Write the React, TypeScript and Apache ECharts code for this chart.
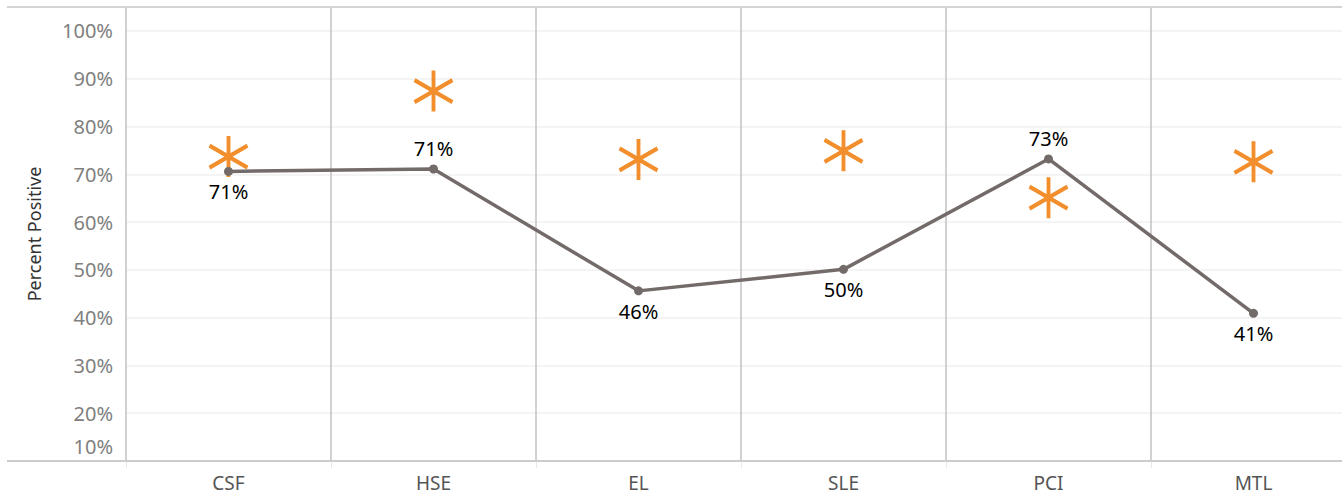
import React, { useEffect, useRef } from "react";
import * as echarts from "echarts";

const categories = ["CSF", "HSE", "EL", "SLE", "PCI", "MTL"];
const percentPositive = [0.706, 0.711, 0.456, 0.501, 0.732, 0.409];
const benchmark = [0.737, 0.874, 0.731, 0.749, 0.651, 0.726];
const labelSide = ["bottom", "top", "bottom", "bottom", "top", "bottom"];
const yTicks = { min: 0.1, max: 1.05, interval: 0.1 };

const FONT = "'Noto Sans', 'DejaVu Sans', sans-serif";
const STAR = "path://M19,0 L19,41 M0,9.5 L38,31.5 M0,31.5 L38,9.5";
const CANVAS_W = 1356;

export default function App() {
  const ref = useRef<HTMLDivElement>(null);

  useEffect(() => {
    if (!ref.current) return;
    const chart = echarts.init(ref.current, undefined, { renderer: "svg" });
    chart.setOption({
      animation: false,
      backgroundColor: "#ffffff",
      textStyle: { fontFamily: FONT },
      grid: { left: 126, right: 0, top: 7, bottom: 34, containLabel: false },
      xAxis: {
        type: "category",
        data: categories,
        boundaryGap: true,
        axisLine: { show: false },
        axisTick: { show: true, length: 7, lineStyle: { color: "#e8e8e8", width: 1 } },
        axisLabel: { color: "#555555", fontSize: 19, margin: 12, fontFamily: FONT },
        splitLine: { show: true, lineStyle: { color: "#c2c2c2", width: 1.5 } },
      },
      yAxis: {
        type: "value",
        min: yTicks.min,
        max: yTicks.max,
        interval: yTicks.interval,
        name: "Percent Positive",
        nameLocation: "middle",
        nameGap: 83,
        nameTextStyle: { color: "#333333", fontSize: 18, fontFamily: FONT },
        axisLine: { show: false },
        axisTick: { show: false },
        axisLabel: {
          showMaxLabel: false,
          color: "#808080",
          fontSize: 20,
          margin: 13,
          fontFamily: FONT,
          formatter: (v: number) => {
            const t = Math.round(v * 100) + "%";
            return Math.abs(v - yTicks.min) < 1e-6 ? "{m|" + t + "}" : t;
          },
          rich: {
            m: { color: "#808080", fontSize: 20, fontFamily: FONT, padding: [0, 0, 30, 0] },
          },
        },
        splitLine: { show: true, lineStyle: { color: "#f0f0f0", width: 1.5 } },
      },
      graphic: [
        {
          type: "line",
          z: 100,
          shape: { x1: 7, y1: 7, x2: CANVAS_W, y2: 7 },
          style: { stroke: "#d4d4d4", lineWidth: 2 },
        },
        {
          type: "line",
          z: 100,
          shape: { x1: 7, y1: 461, x2: CANVAS_W, y2: 461 },
          style: { stroke: "#cccccc", lineWidth: 2 },
        },
      ],
      series: [
        {
          name: "Benchmark",
          type: "scatter",
          z: 2,
          data: benchmark,
          symbol: STAR,
          symbolSize: [38, 41],
          itemStyle: { color: "rgba(0,0,0,0)", borderColor: "#f28e2b", borderWidth: 4, opacity: 1 },
        },
        {
          name: "Percent Positive",
          type: "line",
          z: 3,
          data: percentPositive.map((v, i) => ({
            value: v,
            label: { position: labelSide[i] },
          })),
          symbol: "circle",
          symbolSize: 9,
          lineStyle: { color: "#736b69", width: 3.5 },
          itemStyle: { color: "#736b69" },
          label: {
            show: true,
            distance: 6,
            color: "#000000",
            fontSize: 20,
            fontFamily: FONT,
            formatter: (p: any) => Math.round(p.value * 100) + "%",
          },
        },
      ],
    });
    return () => chart.dispose();
  }, []);

  return (
    <div style={{ position: "fixed", left: 0, top: 0, width: 1342, height: 495, overflow: "hidden" }}>
      <div ref={ref} style={{ width: CANVAS_W, height: 495 }} />
    </div>
  );
}
